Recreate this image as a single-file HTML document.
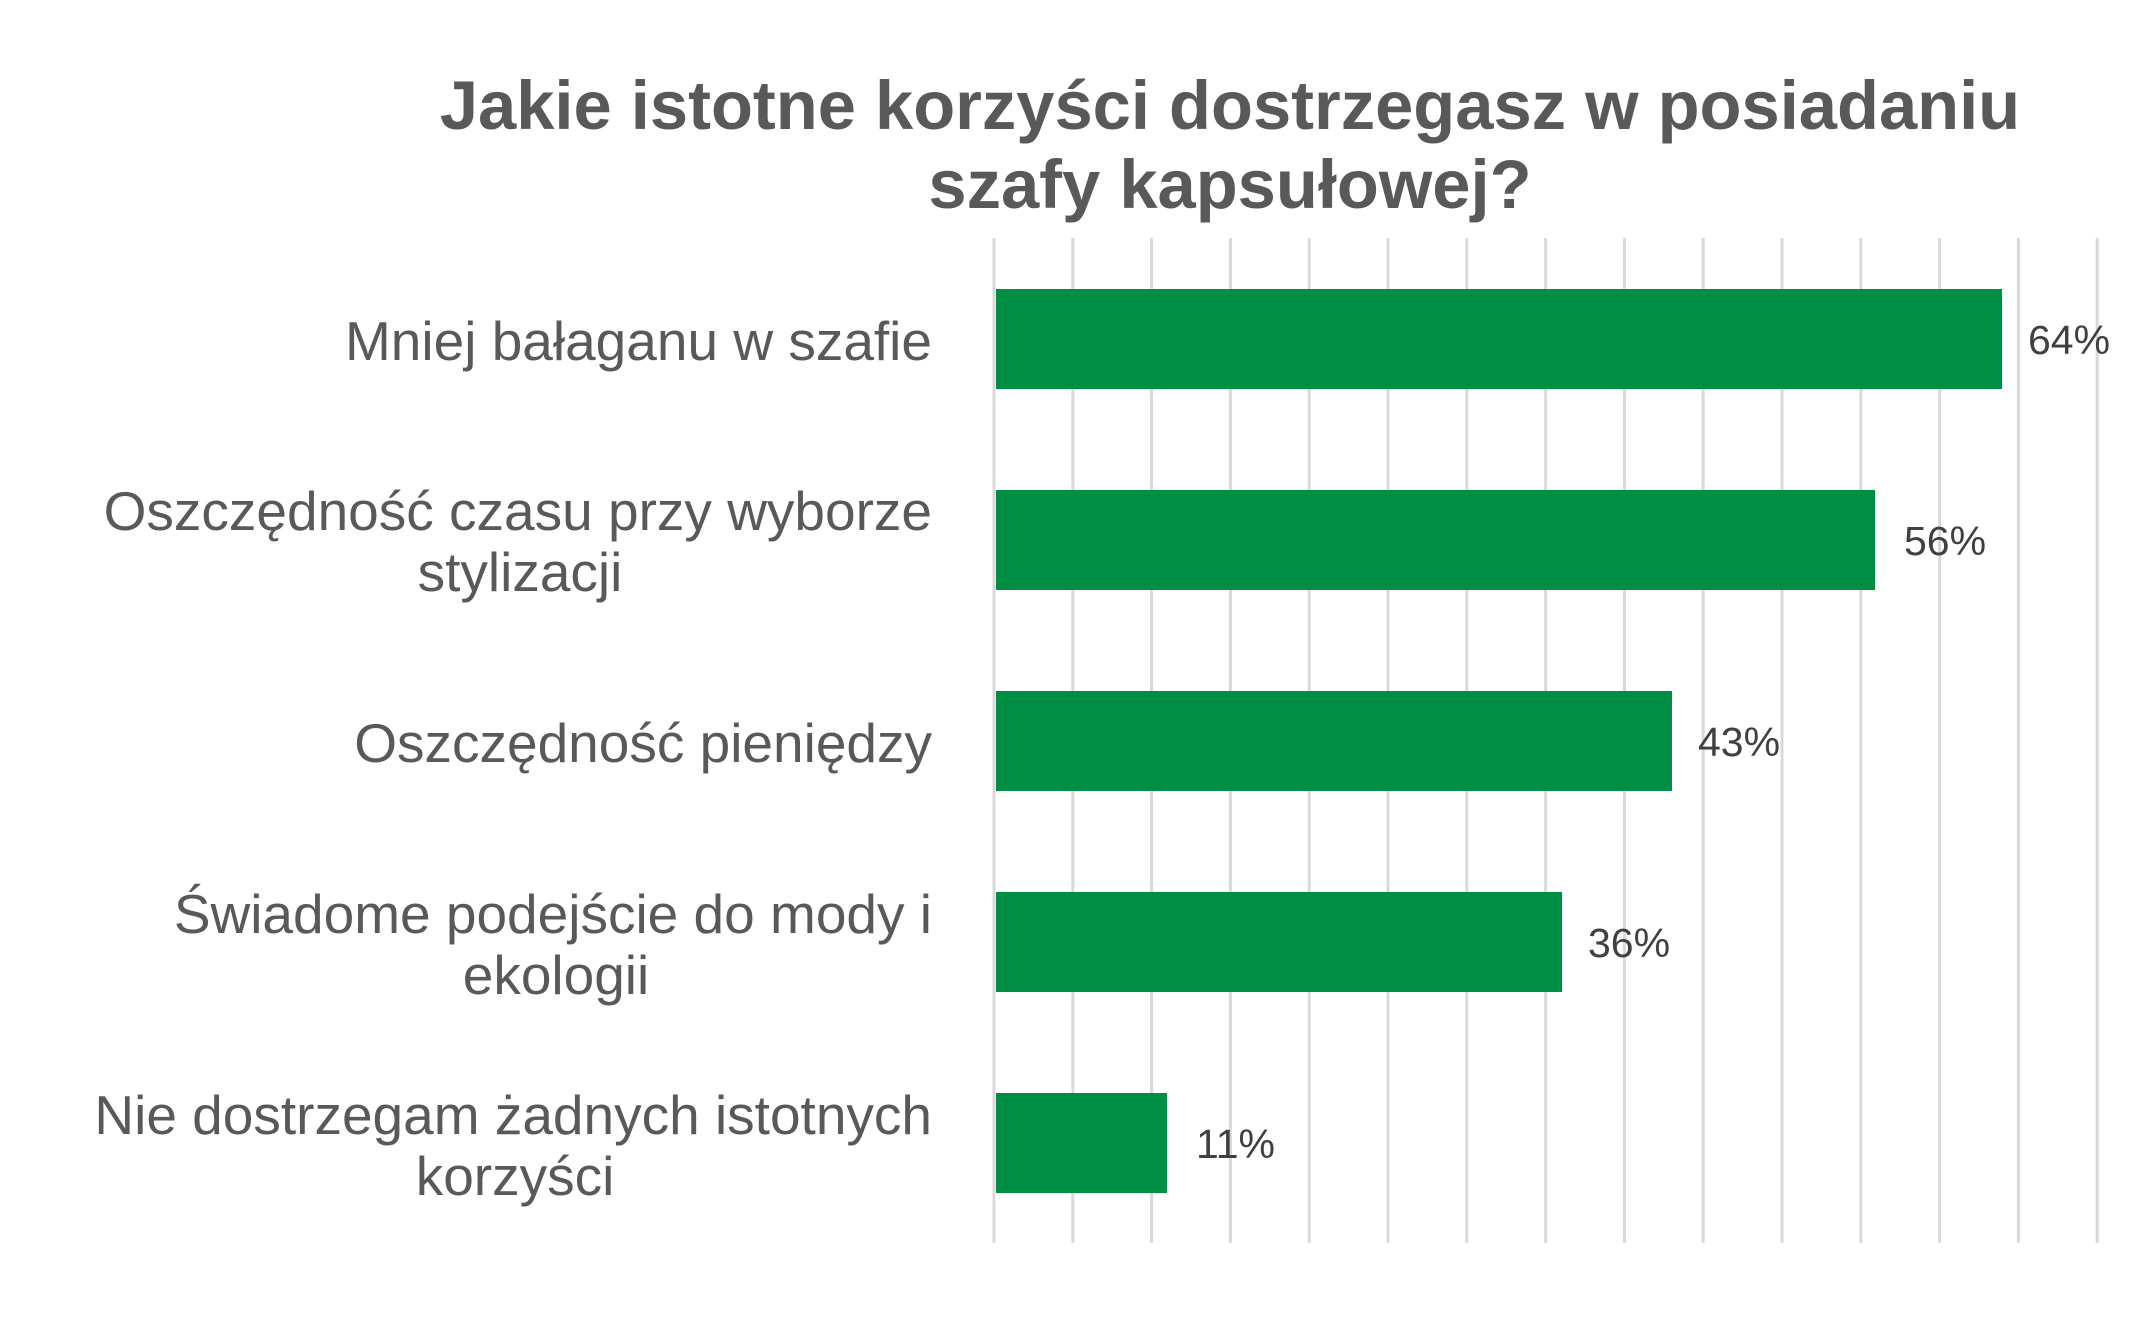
<!DOCTYPE html>
<html><head><meta charset="utf-8"><style>html,body{margin:0;padding:0;background:#fff}svg{display:block}</style></head>
<body>
<svg width="2153" height="1331" viewBox="0 0 2153 1331" xmlns="http://www.w3.org/2000/svg">
<g stroke="#d9d9d9" stroke-width="3">
<line x1="994" y1="238" x2="994" y2="1243"/><line x1="1072.8" y1="238" x2="1072.8" y2="1243"/><line x1="1151.6" y1="238" x2="1151.6" y2="1243"/><line x1="1230.4" y1="238" x2="1230.4" y2="1243"/><line x1="1309.2" y1="238" x2="1309.2" y2="1243"/><line x1="1388" y1="238" x2="1388" y2="1243"/><line x1="1466.8" y1="238" x2="1466.8" y2="1243"/><line x1="1545.6" y1="238" x2="1545.6" y2="1243"/><line x1="1624.4" y1="238" x2="1624.4" y2="1243"/><line x1="1703.2" y1="238" x2="1703.2" y2="1243"/><line x1="1782" y1="238" x2="1782" y2="1243"/><line x1="1860.8" y1="238" x2="1860.8" y2="1243"/><line x1="1939.6" y1="238" x2="1939.6" y2="1243"/><line x1="2018.4" y1="238" x2="2018.4" y2="1243"/><line x1="2097.2" y1="238" x2="2097.2" y2="1243"/>
</g>
<g fill="#008e44">
<rect x="996" y="289" width="1006" height="100"/>
<rect x="996" y="490" width="879" height="100"/>
<rect x="996" y="691" width="676" height="100"/>
<rect x="996" y="892" width="566" height="100"/>
<rect x="996" y="1093" width="171" height="100"/>
</g>
<g font-family="Liberation Sans, Arial, sans-serif" font-size="41" fill="#404040">
<text x="2028" y="354">64%</text>
<text x="1904" y="555">56%</text>
<text x="1698" y="756">43%</text>
<text x="1588" y="957">36%</text>
<text x="1196" y="1158">11%</text>
</g>
<g font-family="Liberation Sans, Arial, sans-serif" font-size="55" fill="#595959" text-anchor="end">
<text x="932" y="360">Mniej bałaganu w szafie</text>
<text x="932" y="530">Oszczędność czasu przy wyborze</text>
<text x="520" y="591" text-anchor="middle">stylizacji</text>
<text x="932" y="762">Oszczędność pieniędzy</text>
<text x="932" y="933">Świadome podejście do mody i</text>
<text x="556" y="994" text-anchor="middle">ekologii</text>
<text x="932" y="1134">Nie dostrzegam żadnych istotnych</text>
<text x="515" y="1195" text-anchor="middle">korzyści</text>
</g>
<g font-family="Liberation Sans, Arial, sans-serif" font-size="68.7" font-weight="bold" fill="#595959" text-anchor="middle">
<text x="1230" y="129">Jakie istotne korzyści dostrzegasz w posiadaniu</text>
<text x="1230" y="208">szafy kapsułowej?</text>
</g>
</svg>
</body></html>
